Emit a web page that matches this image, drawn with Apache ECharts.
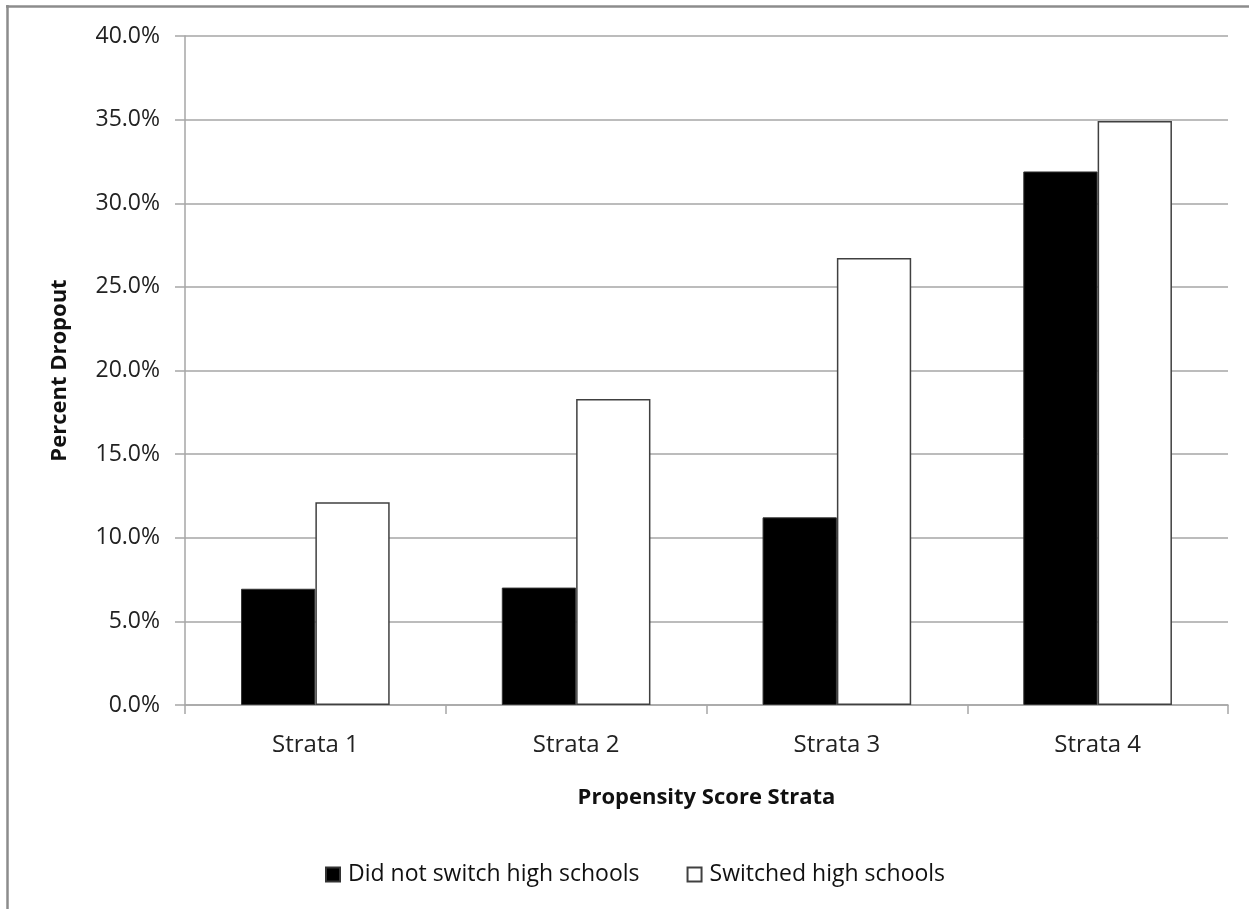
<!DOCTYPE html>
<html>
<head>
<meta charset="utf-8">
<title>Percent Dropout by Propensity Score Strata</title>
<script src="https://cdn.jsdelivr.net/npm/echarts@6/dist/echarts.min.js"></script>
<style>
  html, body { margin: 0; padding: 0; background: #ffffff; }
  #chart { width: 1249px; height: 909px; }
</style>
</head>
<body>
<div id="chart"></div>
<script>
// Categories and dropout rates (percent)
const categories = ['Strata 1', 'Strata 2', 'Strata 3', 'Strata 4'];
const didNotSwitch = [6.95, 7.02, 11.22, 31.9];
const switched = [12.12, 18.3, 26.73, 34.92];
const seriesNames = ['Did not switch high schools', 'Switched high schools'];
const yTicks = { min: 0, max: 40, interval: 5 };

const FONT = '"Open Sans", "Noto Sans", sans-serif';
const GRID_GRAY = '#a6a6a6';

const chart = echarts.init(document.getElementById('chart'), null, { renderer: 'canvas' });

chart.setOption({
  backgroundColor: '#ffffff',
  animation: false,
  grid: { left: 185, right: 21, top: 36, bottom: 204, containLabel: false },
  legend: {
    data: seriesNames,
    bottom: 18,
    left: 320,
    itemWidth: 14,
    itemHeight: 14,
    itemGap: 47,
    icon: 'rect',
    textStyle: { fontFamily: FONT, fontSize: 23, color: '#111', padding: [0, 0, 0, 3] }
  },
  xAxis: {
    type: 'category',
    data: categories,
    boundaryGap: true,
    name: 'Propensity Score Strata',
    nameLocation: 'middle',
    nameGap: 82,
    nameTextStyle: { fontFamily: FONT, fontSize: 22, fontWeight: 'bold', color: '#111' },
    axisLine: { lineStyle: { color: GRID_GRAY, width: 1.5 } },
    axisTick: { show: true, alignWithLabel: false, length: 9, lineStyle: { color: GRID_GRAY, width: 1.5 } },
    axisLabel: { fontFamily: FONT, fontSize: 24, color: '#222', margin: 28 },
    splitLine: { show: false }
  },
  yAxis: {
    type: 'value',
    min: yTicks.min,
    max: yTicks.max,
    interval: yTicks.interval,
    name: 'Percent Dropout',
    nameLocation: 'middle',
    nameGap: 114,
    nameRotate: 90,
    nameTextStyle: { fontFamily: FONT, fontSize: 22, fontWeight: 'bold', color: '#111' },
    axisLine: { show: true, lineStyle: { color: GRID_GRAY, width: 1.5 } },
    axisTick: { show: true, length: 10, lineStyle: { color: GRID_GRAY, width: 1.5 } },
    axisLabel: {
      fontFamily: FONT, fontSize: 23, color: '#222', margin: 25,
      formatter: v => v.toFixed(1) + '%'
    },
    splitLine: { show: true, lineStyle: { color: GRID_GRAY, width: 1.5 } }
  },
  series: [
    {
      name: seriesNames[0],
      type: 'bar',
      data: didNotSwitch,
      barGap: '0%',
      barCategoryGap: '43%',
      itemStyle: { color: '#000000', borderColor: '#333333', borderWidth: 1 }
    },
    {
      name: seriesNames[1],
      type: 'bar',
      data: switched,
      barGap: '0%',
      barCategoryGap: '43%',
      itemStyle: { color: '#ffffff', borderColor: '#404040', borderWidth: 1.5 }
    }
  ],
  graphic: [
    // frame edges along the left and top
    { type: 'line', shape: { x1: 7.5, y1: 5, x2: 7.5, y2: 909 }, style: { stroke: '#8c8c8c', lineWidth: 2.5 }, silent: true },
    { type: 'line', shape: { x1: 6, y1: 6.5, x2: 1249, y2: 6.5 }, style: { stroke: '#8c8c8c', lineWidth: 2.5 }, silent: true }
  ]
});
</script>
</body>
</html>
